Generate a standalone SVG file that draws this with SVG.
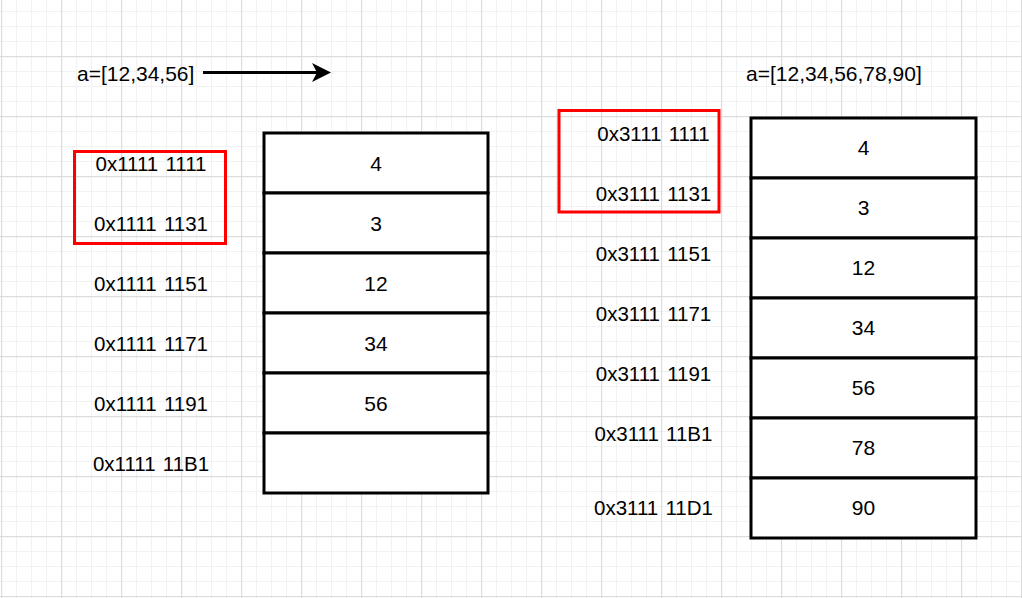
<svg xmlns="http://www.w3.org/2000/svg" width="1022" height="598" viewBox="0 0 1022 598">
  <style>
    text { font-family: "Liberation Sans", Arial, sans-serif; font-size: 21px; fill: #000; }
    .lbl { text-anchor: middle; }
    .addr { font-size: 20.5px; word-spacing: 1.5px; }
    .cell { fill: #fff; stroke: #000; stroke-width: 3; }
    .hl { fill: none; stroke: #ff0000; stroke-width: 3; }
    .edge { fill: none; stroke: #000; stroke-width: 3; }
  </style>
  <defs>
    <pattern id="minor" x="1" y="-4" width="15" height="15" patternUnits="userSpaceOnUse">
      <rect width="15" height="1" fill="#f2f2f2"/>
      <rect width="1" height="15" fill="#f2f2f2"/>
    </pattern>
    <pattern id="major" x="1" y="-4" width="60" height="60" patternUnits="userSpaceOnUse">
      <rect width="60" height="1.2" fill="#dcdcdc"/>
      <rect width="1.2" height="60" fill="#dcdcdc"/>
    </pattern>
    <marker id="arrow" markerUnits="userSpaceOnUse" markerWidth="20" markerHeight="20" refX="8" refY="9.5" orient="auto">
      <path d="M0,0 L19,9.5 L0,19 L5,9.5 Z" fill="#000"/>
    </marker>
  </defs>

  <rect width="1022" height="598" fill="#fff"/>
  <rect width="1022" height="598" fill="url(#minor)"/>
  <rect width="1022" height="598" fill="url(#major)"/>

  <g id="label-before">
    <text x="77" y="81">a=[12,34,56]</text>
  </g>
  <g id="label-after">
    <text x="746" y="81">a=[12,34,56,78,90]</text>
  </g>

  <g id="connectors">
    <line class="edge" x1="203" y1="72.5" x2="320" y2="72.5" marker-end="url(#arrow)"/>
  </g>

  <g id="highlight-left">
    <rect class="hl" x="74.5" y="151.5" width="151" height="92"/>
  </g>
  <g id="highlight-right">
    <rect class="hl" x="559" y="110.5" width="160" height="101.5"/>
  </g>

  <g id="addresses-left">
    <text class="lbl addr" x="151" y="171">0x1111 1111</text>
    <text class="lbl addr" x="151" y="231">0x1111 1131</text>
    <text class="lbl addr" x="151" y="291">0x1111 1151</text>
    <text class="lbl addr" x="151" y="351">0x1111 1171</text>
    <text class="lbl addr" x="151" y="411">0x1111 1191</text>
    <text class="lbl addr" x="151" y="471">0x1111 11B1</text>
  </g>

  <g id="memory-left">
    <rect class="cell" x="264" y="133" width="224" height="60"/>
    <rect class="cell" x="264" y="193" width="224" height="60"/>
    <rect class="cell" x="264" y="253" width="224" height="60"/>
    <rect class="cell" x="264" y="313" width="224" height="60"/>
    <rect class="cell" x="264" y="373" width="224" height="60"/>
    <rect class="cell" x="264" y="433" width="224" height="60"/>
    <text class="lbl" x="376" y="171">4</text>
    <text class="lbl" x="376" y="231">3</text>
    <text class="lbl" x="376" y="291">12</text>
    <text class="lbl" x="376" y="351">34</text>
    <text class="lbl" x="376" y="411">56</text>
  </g>

  <g id="addresses-right">
    <text class="lbl addr" x="653.5" y="141">0x3111 1111</text>
    <text class="lbl addr" x="653.5" y="201">0x3111 1131</text>
    <text class="lbl addr" x="653.5" y="261">0x3111 1151</text>
    <text class="lbl addr" x="653.5" y="321">0x3111 1171</text>
    <text class="lbl addr" x="653.5" y="381">0x3111 1191</text>
    <text class="lbl addr" x="653.5" y="441">0x3111 11B1</text>
    <text class="lbl addr" x="653.5" y="515">0x3111 11D1</text>
  </g>

  <g id="memory-right">
    <rect class="cell" x="751" y="118" width="225" height="60"/>
    <rect class="cell" x="751" y="178" width="225" height="60"/>
    <rect class="cell" x="751" y="238" width="225" height="60"/>
    <rect class="cell" x="751" y="298" width="225" height="60"/>
    <rect class="cell" x="751" y="358" width="225" height="60"/>
    <rect class="cell" x="751" y="418" width="225" height="60"/>
    <rect class="cell" x="751" y="478" width="225" height="60"/>
    <text class="lbl" x="863.5" y="155">4</text>
    <text class="lbl" x="863.5" y="215">3</text>
    <text class="lbl" x="863.5" y="275">12</text>
    <text class="lbl" x="863.5" y="335">34</text>
    <text class="lbl" x="863.5" y="395">56</text>
    <text class="lbl" x="863.5" y="455">78</text>
    <text class="lbl" x="863.5" y="515">90</text>
  </g>
</svg>
